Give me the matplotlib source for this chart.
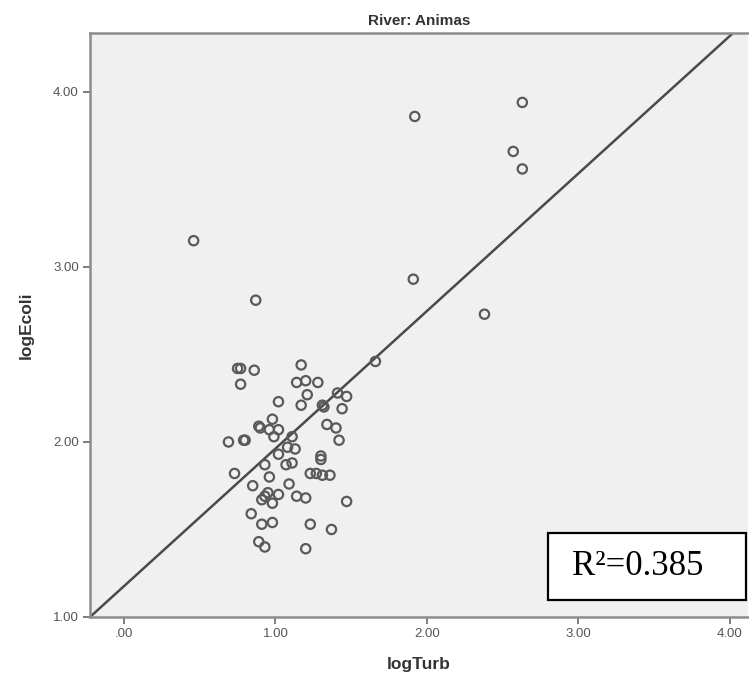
"""
Scatter of logEcoli vs logTurb, River: Animas, with fitted line.
"""

import numpy as np
import matplotlib.pyplot as plt
from matplotlib.patches import Rectangle

plt.rcParams["font.family"] = ["Liberation Sans", "DejaVu Sans"]

log_turb = np.array([
    0.46, 0.87, 1.92, 2.63, 2.57, 2.63, 1.91, 2.38, 1.66, 0.75,
    0.77, 0.86, 0.77, 1.17, 1.14, 1.20, 1.28, 1.02, 1.21, 1.17,
    1.31, 1.32, 1.41, 1.47, 1.44, 0.98, 0.89, 0.90, 0.96, 1.02,
    0.99, 1.11, 1.34, 1.40, 1.42, 0.69, 0.79, 0.80, 1.08, 1.13,
    1.02, 1.07, 1.11, 0.93, 1.30, 1.30, 0.73, 0.96, 1.23, 1.27,
    1.31, 1.36, 0.85, 1.09, 0.95, 0.93, 0.91, 1.02, 0.98, 1.14,
    1.20, 1.47, 0.84, 0.91, 0.98, 1.23, 1.37, 0.89, 0.93, 1.20,
])
log_ecoli = np.array([
    3.15, 2.81, 3.86, 3.94, 3.66, 3.56, 2.93, 2.73, 2.46, 2.42,
    2.42, 2.41, 2.33, 2.44, 2.34, 2.35, 2.34, 2.23, 2.27, 2.21,
    2.21, 2.20, 2.28, 2.26, 2.19, 2.13, 2.09, 2.08, 2.07, 2.07,
    2.03, 2.03, 2.10, 2.08, 2.01, 2.00, 2.01, 2.01, 1.97, 1.96,
    1.93, 1.87, 1.88, 1.87, 1.92, 1.90, 1.82, 1.80, 1.82, 1.82,
    1.81, 1.81, 1.75, 1.76, 1.71, 1.69, 1.67, 1.70, 1.65, 1.69,
    1.68, 1.66, 1.59, 1.53, 1.54, 1.53, 1.50, 1.43, 1.40, 1.39,
])

# fit line as drawn in the chart
fit_intercept = 1.176
fit_slope = 0.786
r_squared = 0.385

ticks = [0, 1, 2, 3, 4]
xtick_labels = [".00", "1.00", "2.00", "3.00", "4.00"]
ytick_labels = ["1.00", "2.00", "3.00", "4.00"]

xlim = (-0.224, 4.12)
ylim = (1.0, 4.337)

fig = plt.figure(figsize=(7.49, 6.85), dpi=100)
ax = fig.add_axes([0.1202, 0.0993, 0.8785, 0.8526])
ax.set_facecolor("#f0f0f0")

ax.scatter(log_turb, log_ecoli, s=45, facecolors="none",
           edgecolors="#5a5a5a", linewidths=1.6, zorder=3)

xfit = np.array([xlim[0], (ylim[1] - fit_intercept) / fit_slope])
ax.plot(xfit, fit_intercept + fit_slope * xfit, color="#4a4a4a", lw=1.8, zorder=2)

ax.set_xlim(xlim)
ax.set_ylim(ylim)
ax.set_xticks(ticks)
ax.set_xticklabels(xtick_labels)
ax.set_yticks(ticks[1:])
ax.set_yticklabels(ytick_labels)
ax.tick_params(direction="out", length=5, width=1.2, color="#666666",
               labelcolor="#555555", labelsize=9.5, pad=3)

for side in ["left", "bottom", "top"]:
    ax.spines[side].set_color("#8c8c8c")
    ax.spines[side].set_linewidth(1.8)
ax.spines["right"].set_visible(False)

ax.set_xlabel("logTurb", fontsize=12.5, fontweight="bold", color="#333333", labelpad=12)
ax.set_ylabel("logEcoli", fontsize=12.5, fontweight="bold", color="#333333", labelpad=14)
ax.set_title("River: Animas", fontsize=11, fontweight="bold", color="#333333", pad=6)

# R² box
ax.add_patch(Rectangle((0.696, 0.029), 0.301, 0.115, transform=ax.transAxes,
                       facecolor="white", edgecolor="black", lw=1.6, zorder=5))
ax.text(0.7325, 0.0865, f"R\u00b2={r_squared}", transform=ax.transAxes,
        family="Liberation Serif", fontsize=25, va="center", ha="left", zorder=6)

fig.savefig("out.png", dpi=100)
